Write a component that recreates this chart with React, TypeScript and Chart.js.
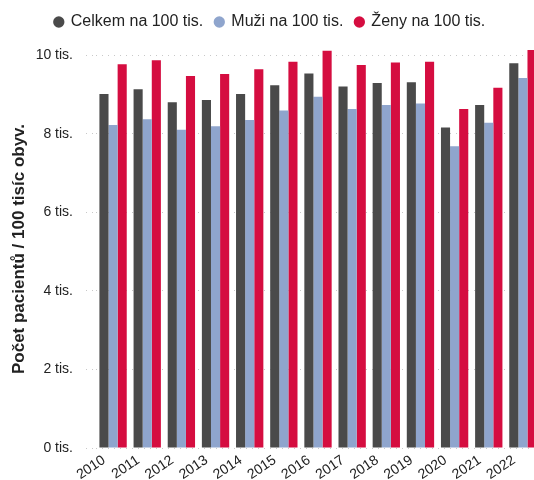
import React, { useEffect, useRef } from "react";
import { Chart, registerables } from "chart.js";

Chart.register(...registerables);

const years = ["2010", "2011", "2012", "2013", "2014", "2015", "2016", "2017", "2018", "2019", "2020", "2021", "2022"];
const celkem = [9010, 9130, 8800, 8860, 9010, 9230, 9530, 9200, 9290, 9310, 8160, 8730, 9790];
const muzi = [8220, 8370, 8100, 8190, 8350, 8590, 8940, 8630, 8730, 8770, 7680, 8280, 9420];
const zeny = [9770, 9870, 9470, 9520, 9640, 9830, 10110, 9750, 9810, 9830, 8630, 9170, 10130];
const yTicks = [0, 2000, 4000, 6000, 8000, 10000];
const seriesNames = ["Celkem na 100 tis.", "Muži na 100 tis.", "Ženy na 100 tis."];
const seriesColors = ["#4a4a4a", "#8fa5cd", "#d50d40"];

const FONT = "'Liberation Sans', Arial, Helvetica, sans-serif";

export default function App() {
  const ref = useRef<HTMLCanvasElement | null>(null);

  useEffect(() => {
    if (!ref.current) return;
    const legendHeight = {
      id: "legendHeight",
      beforeInit(chart: any) {
        const legend = chart.legend;
        if (!legend) return;
        const orig = legend.fit;
        legend.fit = function () {
          orig.call(this);
          this.height = 48;
        };
      },
    };
    const values = [celkem, muzi, zeny];
    const chart = new Chart(ref.current, {
      type: "bar",
      data: {
        labels: years,
        datasets: values.map((v, i) => ({
          label: seriesNames[i],
          data: v,
          backgroundColor: seriesColors[i],
          borderWidth: 0,
          barPercentage: 1,
          categoryPercentage: 0.8,
        })),
      },
      options: {
        animation: false,
        responsive: false,
        layout: { padding: { top: 2 } },
        plugins: {
          legend: {
            position: "top",
            labels: {
              usePointStyle: true,
              pointStyle: "circle",
              boxWidth: 8,
              boxHeight: 8,
              padding: 12,
              color: "#222",
              font: { family: FONT, size: 16 },
            },
          },
          tooltip: { enabled: false },
        },
        scales: {
          x: {
            grid: { display: false },
            border: { display: false },
            ticks: {
              color: "#222",
              font: { family: FONT, size: 14 },
              minRotation: 34,
              maxRotation: 34,
              padding: -4,
              labelOffset: -9,
              autoSkip: false,
            },
            afterFit(scale: any) {
              scale.height = 32;
            },
          },
          y: {
            min: 0,
            max: Math.max(...zeny),
            border: { display: false, dash: [1, 5] },
            grid: {
              color: "#c8c8c8",
              tickLength: 10,
              tickColor: "#c8c8c8",
              tickBorderDash: [1, 5],
            },
            ticks: {
              color: "#222",
              font: { family: FONT, size: 14 },
              padding: 13,
              callback: (v: any) => `${Number(v) / 1000} tis.`,
            },
            afterBuildTicks(scale: any) {
              scale.ticks = yTicks.map((v) => ({ value: v }));
            },
            afterFit(scale: any) {
              scale.width = 96;
            },
            title: {
              display: true,
              text: "Počet pacientů / 100 tisíc obyv.",
              color: "#222",
              font: { family: FONT, size: 17, weight: "bold" },
              padding: { top: 9, bottom: 0 },
            },
          },
        },
      },
      plugins: [legendHeight],
    } as any);
    return () => chart.destroy();
  }, []);

  return (
    <div style={{ position: "absolute", left: 0, top: 0, width: 534, height: 480, overflow: "hidden", background: "#fff" }}>
      <canvas ref={ref} width={540} height={480} style={{ display: "block" }} />
    </div>
  );
}
